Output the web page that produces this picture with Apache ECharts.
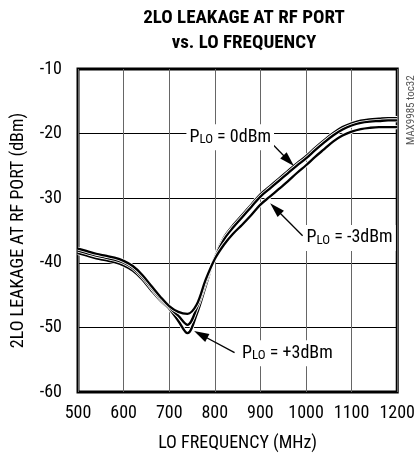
<!DOCTYPE html>
<html>
<head>
<meta charset="utf-8">
<script src="https://cdn.jsdelivr.net/npm/echarts@6/dist/echarts.min.js"></script>
<style>
html,body{margin:0;padding:0;background:#fff;}
#chart{width:418px;height:457px;}
</style>
</head>
<body>
<div id="chart"></div>
<script>
// LO frequency (MHz)
var freq = [500, 520, 540, 560, 580, 600, 620, 640, 660, 680, 700, 720, 740, 760, 780, 800, 820, 840, 860, 880, 900, 920, 940, 960, 980, 1000, 1020, 1040, 1060, 1080, 1100, 1120, 1140, 1160, 1180, 1200];
// 2LO leakage at RF port (dBm) for each LO drive level
var pLOm3 = [-37.8, -38.2, -38.6, -38.9, -39.2, -39.7, -40.5, -41.8, -43.5, -45.2, -46.7, -47.6, -47.9, -46.5, -42.6, -39.4, -37.2, -35.5, -34.1, -32.6, -31.0, -29.8, -28.6, -27.4, -26.1, -24.9, -23.6, -22.4, -21.2, -20.3, -19.7, -19.3, -19.1, -19.0, -19.0, -19.0];
var pLO0  = [-38.1, -38.5, -38.9, -39.2, -39.5, -40.0, -40.8, -42.1, -43.8, -45.5, -46.9, -48.2, -49.6, -47.1, -43.0, -39.2, -36.4, -34.55, -32.95, -31.35, -29.75, -28.55, -27.35, -26.15, -24.95, -23.85, -22.55, -21.35, -20.25, -19.35, -18.75, -18.35, -18.15, -18.05, -17.95, -17.95];
var pLOp3 = [-38.5, -38.9, -39.3, -39.6, -39.9, -40.4, -41.2, -42.5, -44.2, -45.8, -47.1, -49.0, -50.9, -48.0, -43.6, -39.1, -36.1, -34.2, -32.6, -31.0, -29.4, -28.2, -27.0, -25.8, -24.6, -23.5, -22.2, -21.0, -19.9, -19.0, -18.4, -18.0, -17.8, -17.7, -17.6, -17.6];
var xTicks = [500, 600, 700, 800, 900, 1000, 1100, 1200];
var yTicks = [-60, -50, -40, -30, -20, -10];

// annotations (data coordinates)
var labelTexts = ['= 0dBm', '= -3dBm', '= +3dBm'];
var labelAt = [[737.7, -20.55], [994.6, -36.15], [853.3, -54.0]];
var arrowFrom = [[917.6, -21.0], [992.5, -35.8], [843.3, -53.9]];
var arrowTo = [[962.0, -24.2], [933.0, -31.6], [769.0, -51.1]];

var FONT = '"Roboto Condensed", "Archivo Narrow", "DejaVu Sans Condensed", sans-serif';

function pairs(vals) { return freq.map(function (f, i) { return [f, vals[i]]; }); }

var curves = [pLOp3, pLO0, pLOm3];
var series = [];
curves.forEach(function (c) {
  series.push({
    type: 'line', data: pairs(c), smooth: 0.35, symbol: 'none', silent: true,
    lineStyle: { color: '#fff', width: 4.0 }, z: 3
  });
  series.push({
    type: 'line', data: pairs(c), smooth: 0.35, symbol: 'none', silent: true,
    lineStyle: { color: '#000', width: 2.3 }, z: 3
  });
});
series.push({
  type: 'line', data: [], silent: true,
  markLine: {
    silent: true, animation: false,
    symbol: ['none', 'triangle'],
    lineStyle: { color: '#000', width: 1.3, type: 'solid' },
    label: { show: false },
    data: arrowFrom.map(function (a, i) {
      return [{ coord: a, symbol: 'none' }, { coord: arrowTo[i], symbol: 'triangle', symbolSize: [9, 15] }];
    })
  },
  z: 5
});

var chart = echarts.init(document.getElementById('chart'));
chart.setOption({
  animation: false,
  backgroundColor: '#fff',
  title: {
    text: '2LO LEAKAGE AT RF PORT\nvs. LO FREQUENCY',
    left: 244, top: 6, padding: 0, textAlign: 'center',
    textStyle: { fontFamily: FONT, fontWeight: 'bold', fontSize: 19, lineHeight: 25, color: '#000' }
  },
  grid: { left: 78, right: 13, top: 69, bottom: 61, show: true, borderColor: '#000', borderWidth: 3, backgroundColor: 'transparent' },
  xAxis: {
    type: 'value', min: 500, max: 1200, interval: 100,
    name: 'LO FREQUENCY (MHz)', nameLocation: 'middle', nameGap: 42,
    nameTextStyle: { fontFamily: FONT, fontSize: 18, color: '#000' },
    axisLine: { show: false }, axisTick: { show: false },
    axisLabel: { fontFamily: FONT, fontSize: 18, color: '#000', margin: 12,
      formatter: function (v) { return xTicks.indexOf(v) >= 0 ? String(v) : ''; } },
    splitLine: { show: true, lineStyle: { color: '#666', width: 1 } }
  },
  yAxis: {
    type: 'value', min: -60, max: -10, interval: 10,
    name: '2LO LEAKAGE AT RF PORT (dBm)', nameLocation: 'middle', nameGap: 51,
    nameTextStyle: { fontFamily: FONT, fontSize: 18, color: '#000' },
    axisLine: { show: false }, axisTick: { show: false },
    axisLabel: { fontFamily: FONT, fontSize: 18, color: '#000', margin: 16,
      formatter: function (v) { return yTicks.indexOf(v) >= 0 ? String(v) : ''; } },
    splitLine: { show: true, lineStyle: { color: '#000', width: 1 } }
  },
  series: series
});

var graphics = labelAt.map(function (p, i) {
  var px = chart.convertToPixel({ gridIndex: 0 }, p);
  return {
    type: 'text', x: px[0], y: px[1], z: 10,
    style: {
      text: '{a|P}{s|LO}{a| ' + labelTexts[i] + '}',
      align: 'left', verticalAlign: 'middle',
      backgroundColor: '#fff', padding: [4, 3, 4, 3],
      rich: {
        a: { fontFamily: FONT, fontSize: 18, lineHeight: 18, verticalAlign: 'bottom', fill: '#000', color: '#000' },
        s: { fontFamily: FONT, fontSize: 13, lineHeight: 6, verticalAlign: 'bottom', fill: '#000', color: '#000' }
      }
    }
  };
});
graphics.push({
  type: 'text', rotation: Math.PI / 2, z: 10,
  x: 417, y: 145,
  style: { text: 'MAX9985 toc32', fontFamily: FONT, fontSize: 11, fill: '#555', align: 'left', verticalAlign: 'bottom' }
});
chart.setOption({ graphic: graphics });
</script>
</body>
</html>
